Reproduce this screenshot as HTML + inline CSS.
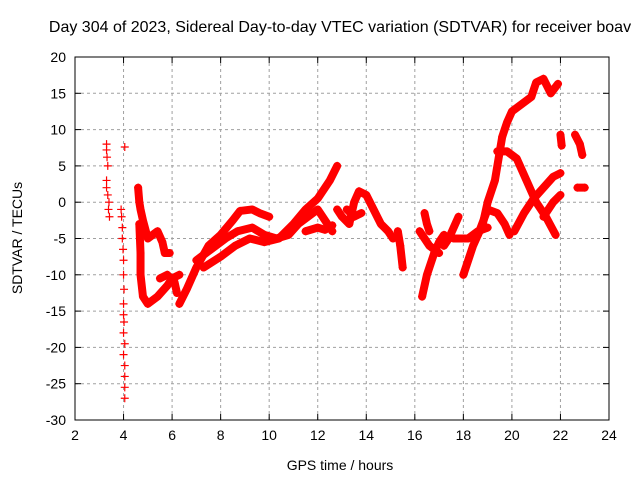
<!DOCTYPE html>
<html><head><meta charset="utf-8"><style>
body{margin:0;background:#fff;}
svg{display:block;font-family:"Liberation Sans",sans-serif;}
</style></head><body>
<svg id="c" width="640" height="480"></svg>
<script>
const xTicks=[2,4,6,8,10,12,14,16,18,20,22,24];
const yTicks=[20,15,10,5,0,-5,-10,-15,-20,-25,-30];
const spikeA=[[3.3,8],[3.3,7.2],[3.32,6.2],[3.35,5],[3.3,3],[3.3,2],[3.35,1],[3.4,0],[3.38,-1],[3.42,-2]];
const spikeB=[[4.05,7.6],[3.9,-1],[3.92,-2],[3.95,-3.5],[3.95,-5],[3.98,-6.5],[4.0,-8],[4.0,-10],[4.02,-12],[4.0,-14],[4.0,-15.5],[4.02,-16.5],[4.0,-18],[4.05,-19.5],[4.0,-21],[4.05,-22.5],[4.05,-24],[4.05,-25.5],[4.05,-27]];
const tracks=[
[[4.6,2],[4.65,0],[4.7,-1],[4.8,-2.5],[5.0,-5],[5.2,-4.5],[5.4,-4],[5.6,-5.5],[5.7,-7],[5.9,-7]],
[[4.65,-3],[4.7,-7],[4.7,-10],[4.8,-13],[5.0,-14],[5.4,-13],[5.8,-11.5],[6.0,-10.5],[6.3,-10]],
[[5.5,-10.5],[5.8,-10],[6.1,-11],[6.2,-12.5]],
[[6.3,-14],[6.6,-12],[7.0,-9],[7.5,-6],[8.0,-4.5],[8.5,-2.5],[8.8,-1.2],[9.3,-1],[9.6,-1.5],[10.0,-2]],
[[7.0,-8],[7.6,-6.5],[8.2,-5],[8.7,-4],[9.3,-3.5],[9.8,-4.5],[10.3,-5],[10.8,-4.5],[11.2,-3],[11.6,-2],[12.0,-1],[12.3,-2.5],[12.6,-4]],
[[7.3,-9],[8.0,-7.5],[8.6,-6],[9.2,-5],[9.8,-5.5],[10.4,-5],[11.0,-3],[11.5,-1],[12.0,0.5],[12.3,2],[12.5,3],[12.8,5]],
[[11.5,-4],[12.0,-3.5],[12.3,-3.8],[12.6,-3.2]],
[[12.8,-1],[13.0,-2],[13.3,-3],[13.5,0],[13.7,1.5],[14.0,1],[14.3,-1],[14.6,-3],[14.9,-4],[15.1,-5]],
[[13.2,-1],[13.5,-2],[13.8,-1.5]],
[[15.3,-4],[15.4,-6],[15.5,-9]],
[[16.3,-13],[16.5,-10],[16.8,-7],[17.0,-5.5],[17.2,-4.5]],
[[16.2,-4],[16.6,-6],[17.0,-7]],
[[16.4,-1.5],[16.5,-3],[16.6,-4]],
[[17.2,-6],[17.4,-5],[17.6,-3.5],[17.8,-2]],
[[18.0,-10],[18.4,-6],[18.8,-3],[19.0,0],[19.3,3],[19.5,7],[19.6,9],[19.8,11],[20.0,12.5],[20.4,13.5],[20.8,14.5],[21.0,16.5],[21.3,17],[21.6,15],[21.9,16.3]],
[[19.4,7],[19.8,7],[20.2,6],[20.6,3],[21.0,0],[21.4,-2],[21.8,-4.5]],
[[18.6,-4.5],[19.0,-1],[19.4,-1.5],[19.7,-3],[19.9,-4.5]],
[[20.1,-4],[20.5,-1.5],[20.9,0.5],[21.3,2],[21.7,3.5],[22.0,4]],
[[21.3,-2],[21.7,0],[22.0,1]],
[[17.6,-5],[18.2,-5],[18.6,-4],[19.0,-3.5]],
[[22.0,9.3],[22.05,7.8]],
[[22.6,9.3],[22.8,8],[22.9,6.5]],
[[22.7,2],[23.0,2]]
];
const NS="http://www.w3.org/2000/svg";
const svg=document.getElementById('c');
const L=75,R=609,T=57,B=420;
const sx=v=>L+(v-2)/(24-2)*(R-L);
const sy=v=>T+(20-v)/(50)*(B-T);
function mk(tag,attrs,parent){const e=document.createElementNS(NS,tag);for(const k in attrs)e.setAttribute(k,attrs[k]);(parent||svg).appendChild(e);return e;}
const grid=mk('g',{});


xTicks.forEach(t=>{const x=sx(t);
 if(t>2&&t<24){const l=mk('line',{x1:x,x2:x,y1:T,y2:B,stroke:'#a0a0a0','stroke-dasharray':'3,3'},grid);}
 mk('line',{x1:x,x2:x,y1:B,y2:B-6,stroke:'#000'},grid);mk('line',{x1:x,x2:x,y1:T,y2:T+6,stroke:'#000'},grid);
 const tx=mk('text',{x:x,y:B+20,'text-anchor':'middle','font-size':'14'});tx.textContent=t;
 
 });
yTicks.forEach(t=>{const y=sy(t);
 if(t<20&&t>-30){const l=mk('line',{x1:L,x2:R,y1:y,y2:y,stroke:'#a0a0a0','stroke-dasharray':'3,3'},grid);}
 mk('line',{x1:L,x2:L+6,y1:y,y2:y,stroke:'#000'},grid);mk('line',{x1:R,x2:R-6,y1:y,y2:y,stroke:'#000'},grid);
 const tx=mk('text',{x:L-9,y:y+5,'text-anchor':'end','font-size':'14'});tx.textContent=t;
 
 });
const frame=mk('rect',{x:L,y:T,width:R-L,height:B-T,fill:'none',stroke:'#000'});


const series=mk('g',{});


tracks.forEach(tr=>{const p=mk('polyline',{points:tr.map(d=>sx(d[0])+','+sy(d[1])).join(' '),fill:'none',stroke:'#f00','stroke-width':'8','stroke-linejoin':'round','stroke-linecap':'round'},series);
 
 });
function plus(d){const x=sx(d[0]),y=sy(d[1]);mk('path',{d:`M${x-4},${y}h8M${x},${y-4}v8`,stroke:'#f00','stroke-width':'1.2',fill:'none'},series);}
spikeA.forEach(plus);spikeB.forEach(plus);
tracks.forEach(tr=>tr.forEach(plus));
const title=mk('text',{x:340,y:32,'text-anchor':'middle','font-size':'16'});title.textContent='Day 304 of 2023, Sidereal Day-to-day VTEC variation (SDTVAR) for receiver boav';


const xl=mk('text',{x:340,y:470,'text-anchor':'middle','font-size':'14'});xl.textContent='GPS time / hours';


const yl=mk('text',{x:22,y:238,'text-anchor':'middle','font-size':'14',transform:'rotate(-90 22 238)'});yl.textContent='SDTVAR / TECUs';


</script>
</body></html>
